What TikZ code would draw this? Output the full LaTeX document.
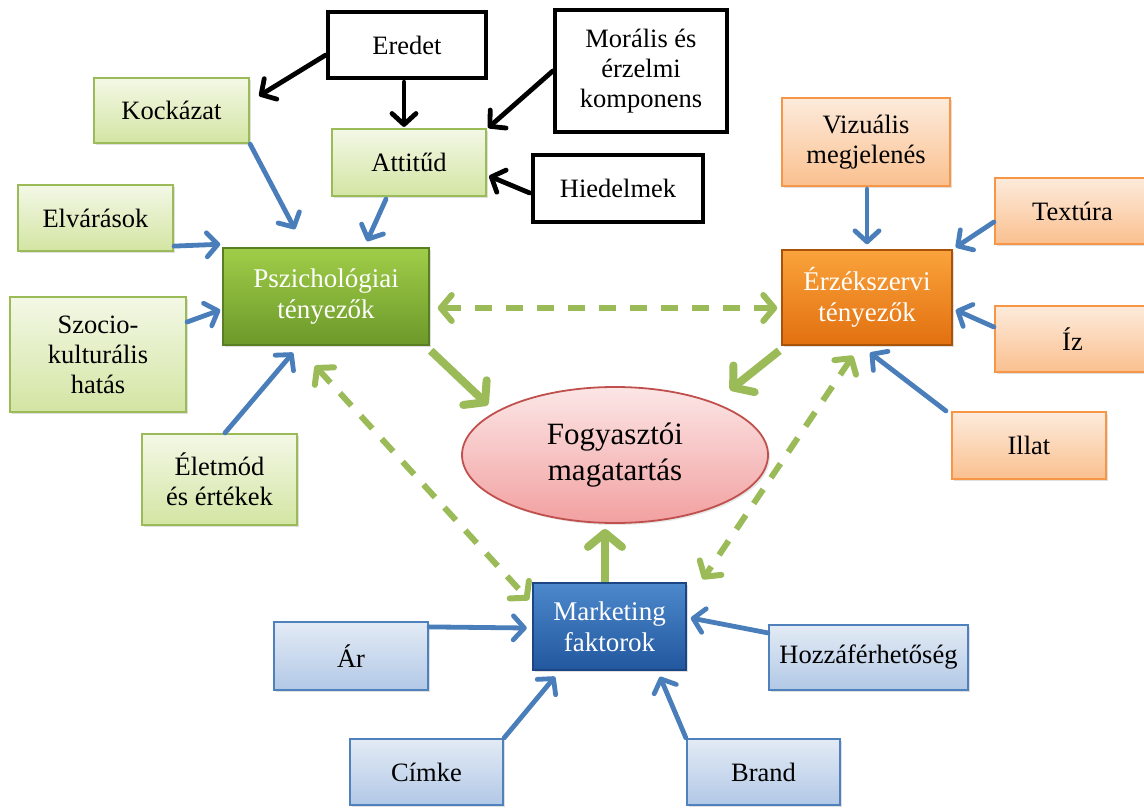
\documentclass[tikz,border=0pt]{standalone}
\usepackage{fontspec}
\setmainfont{Liberation Serif}
\usetikzlibrary{arrows.meta,calc,shapes.geometric,shadows}

% palette
\definecolor{lgTop}{HTML}{F3F8E6}
\definecolor{lgBot}{HTML}{D3E5A3}
\definecolor{lgLine}{HTML}{9BBB59}
\definecolor{dgTop}{HTML}{A0CD48}
\definecolor{dgBot}{HTML}{6C992A}
\definecolor{dgLine}{HTML}{5A7E24}
\definecolor{orTop}{HTML}{FAA33C}
\definecolor{orBot}{HTML}{E2700F}
\definecolor{orLine}{HTML}{A9520A}
\definecolor{loTop}{HTML}{FDEBDC}
\definecolor{loBot}{HTML}{FAC08F}
\definecolor{loLine}{HTML}{F79646}
\definecolor{blTop}{HTML}{4C88CC}
\definecolor{blBot}{HTML}{22579E}
\definecolor{blLine}{HTML}{1C4683}
\definecolor{lbTop}{HTML}{E3EBF5}
\definecolor{lbBot}{HTML}{B2C8E6}
\definecolor{lbLine}{HTML}{4F81BD}
\definecolor{elTop}{HTML}{FCE6E6}
\definecolor{elBot}{HTML}{F2A0A0}
\definecolor{elLine}{HTML}{C0504D}
\definecolor{arBlue}{HTML}{4A7EBB}
\definecolor{arGreen}{HTML}{9BBB59}

\tikzset{
  txt/.style={font=\fontsize{26.5}{30}\selectfont, align=center, inner sep=0pt},
  box/.style={txt, rectangle, line width=2.2pt,
    drop shadow={opacity=0.25, shadow xshift=2pt, shadow yshift=-2pt}},
  lgbox/.style={box, draw=lgLine, top color=lgTop, bottom color=lgBot},
  lobox/.style={box, draw=loLine, top color=loTop, bottom color=loBot},
  lbbox/.style={box, draw=lbLine, top color=lbTop, bottom color=lbBot},
  blackbox/.style={txt, rectangle, draw=black, fill=white, line width=4.5pt},
  mainbox/.style={box, text=white, line width=1.5pt, font=\fontsize{27}{31}\selectfont},
  greenmain/.style={mainbox, draw=dgLine, top color=dgTop, bottom color=dgBot},
  orangemain/.style={mainbox, draw=orLine, top color=orTop, bottom color=orBot},
  bluemain/.style={mainbox, draw=blLine, top color=blTop, bottom color=blBot},
  blackarrow/.style={draw=black, line width=4.8pt, line cap=round,
    -{Straight Barb[length=11pt,width=24pt,line cap=round,line join=round]}},
  bluearrow/.style={draw=arBlue, line width=4.8pt, line cap=round,
    -{Straight Barb[length=11pt,width=24pt,line cap=round,line join=round]}},
  greenarrow/.style={draw=arGreen, line width=8pt,
    -{Straight Barb[length=14pt,width=34pt,line cap=round,line join=round]}},
  greendash/.style={draw=arGreen, line width=6pt, dash pattern=on 17pt off 14pt,
    {Straight Barb[length=11pt,width=26pt,line cap=round,line join=round]}-{Straight Barb[length=11pt,width=26pt,line cap=round,line join=round]}},
}

\begin{document}
\begin{tikzpicture}[x=1pt,y=-1pt]
\useasboundingbox (0,0) rectangle (1144,808);

% attitude sources
\node[blackbox, minimum width=158pt, minimum height=66pt] (eredet) at (407,45) {Eredet};
\node[blackbox, minimum width=172pt, minimum height=122pt] (moral) at (641,71) {Morális és\\érzelmi\\komponens};
\node[blackbox, minimum width=170pt, minimum height=67pt] (hiedel) at (618,188.5) {Hiedelmek};

% psychological factors
\node[lgbox, minimum width=155pt, minimum height=65pt] (kock) at (171.5,110.5) {Kockázat};
\node[lgbox, minimum width=154pt, minimum height=67pt] (attitud) at (409,162.5) {Attitűd};
\node[lgbox, minimum width=155pt, minimum height=66pt] (elvar) at (95.5,218) {Elvárások};
\node[lgbox, minimum width=176pt, minimum height=115pt] (szocio) at (98,354.5) {Szocio-\\kulturális\\hatás};
\node[lgbox, minimum width=155pt, minimum height=91pt] (eletmod) at (219.5,479.5) {Életmód\\és értékek};
\node[greenmain, minimum width=206pt, minimum height=97pt] (pszich) at (326,296.5) {Pszichológiai\\tényezők};

% sensory factors
\node[lobox, minimum width=168pt, minimum height=88pt] (vizual) at (866,142) {Vizuális\\megjelenés};
\node[lobox, minimum width=155pt, minimum height=66pt] (textura) at (1072.5,211) {Textúra};
\node[lobox, minimum width=155pt, minimum height=66pt] (iz) at (1072.5,339) {Íz};
\node[lobox, minimum width=154pt, minimum height=67pt] (illat) at (1029,445.5) {Illat};
\node[orangemain, minimum width=170pt, minimum height=95pt] (erzek) at (867,297.5) {Érzékszervi\\tényezők};

% consumer behaviour
\node[ellipse, draw=elLine, line width=1.8pt, top color=elTop, bottom color=elBot,
  minimum width=306pt, minimum height=136pt, inner sep=0pt, align=center,
  font=\fontsize{31}{36}\selectfont,
  drop shadow={opacity=0.2, shadow xshift=2pt, shadow yshift=-2pt}] (ell) at (615,455) {Fogyasztói\\magatartás};

% marketing factors
\node[lbbox, minimum width=154pt, minimum height=68pt] (ar) at (351,656) {Ár};
\node[lbbox, minimum width=199pt, minimum height=65pt] (hozza) at (868.5,657.5) {Hozzáférhetőség};
\node[lbbox, minimum width=153pt, minimum height=66pt] (cimke) at (426.5,772) {Címke};
\node[lbbox, minimum width=153pt, minimum height=66pt] (brand) at (763.5,772) {Brand};
\node[bluemain, minimum width=153pt, minimum height=87pt] (market) at (609.5,626.5) {Marketing\\faktorok};

% black connectors
\draw[blackarrow] ($(eredet.west)+(0,10)$) -- ($(kock.north east)+(9,19)$);
\draw[blackarrow] ($(eredet.south)+(-3,2)$) -- ($(attitud.north)+(-5,-1)$);
\draw[blackarrow] (moral.west) -- ($(attitud.north east)+(1,0)$);
\draw[blackarrow] ($(hiedel.west)+(-1,4.5)$) -- ($(attitud.east)+(2,13.5)$);

% psychological inputs
\draw[bluearrow] (kock.south east) -- ($(pszich.north)+(-31,-18)$);
\draw[bluearrow] ($(attitud.south)+(-23,2)$) -- ($(pszich.north)+(41,-6)$);
\draw[bluearrow] ($(elvar.south east)+(0,-6)$) -- ($(pszich.north west)+(-2,-3)$);
\draw[bluearrow] ($(szocio.east)+(0,-32.5)$) -- ($(pszich.west)+(-2,13.5)$);
\draw[bluearrow] ($(eletmod.north)+(5.5,0)$) -- ($(pszich.south)+(-33,7)$);

% sensory inputs
\draw[bluearrow] ($(vizual.south)+(1,2)$) -- ($(erzek.north)+(0,-5)$);
\draw[bluearrow] ($(textura.west)+(0,11)$) -- ($(erzek.north east)+(3,-2)$);
\draw[bluearrow] ($(iz.west)+(0,-12)$) -- ($(erzek.east)+(3,12.5)$);
\draw[bluearrow] ($(illat.north west)+(-5,0)$) -- ($(erzek.south)+(3,7)$);

% marketing inputs
\draw[bluearrow] ($(ar.north east)+(0,6)$) -- ($(market.west)+(-5.5,1.5)$);
\draw[bluearrow] ($(hozza.north west)+(0,9)$) -- ($(market.east)+(4,-8.5)$);
\draw[bluearrow] (cimke.north east) -- ($(market.south)+(-54.5,6)$);
\draw[bluearrow] (brand.north west) -- ($(market.south)+(50.5,6)$);

% links to consumer behaviour
\draw[greenarrow] ($(pszich.south east)+(1,5)$) -- ($(ell.center)+(-127,-50)$);
\draw[greenarrow] ($(erzek.south west)+(-2,5)$) -- ($(ell.center)+(115,-65)$);
\draw[greenarrow] ($(market.north)+(-4.5,0)$) -- ($(ell.south)+(-10,5)$);

% mutual links between factor groups
\draw[greendash] ($(pszich.east)+(8,11.5)$) -- ($(erzek.west)+(-4,10.5)$);
\draw[greendash] ($(pszich.south)+(-11,20)$) -- ($(market.west)+(-3.5,-26.5)$);
\draw[greendash] ($(erzek.south)+(-14,10)$) -- ($(market.north east)+(16,-3)$);
\end{tikzpicture}
\end{document}
